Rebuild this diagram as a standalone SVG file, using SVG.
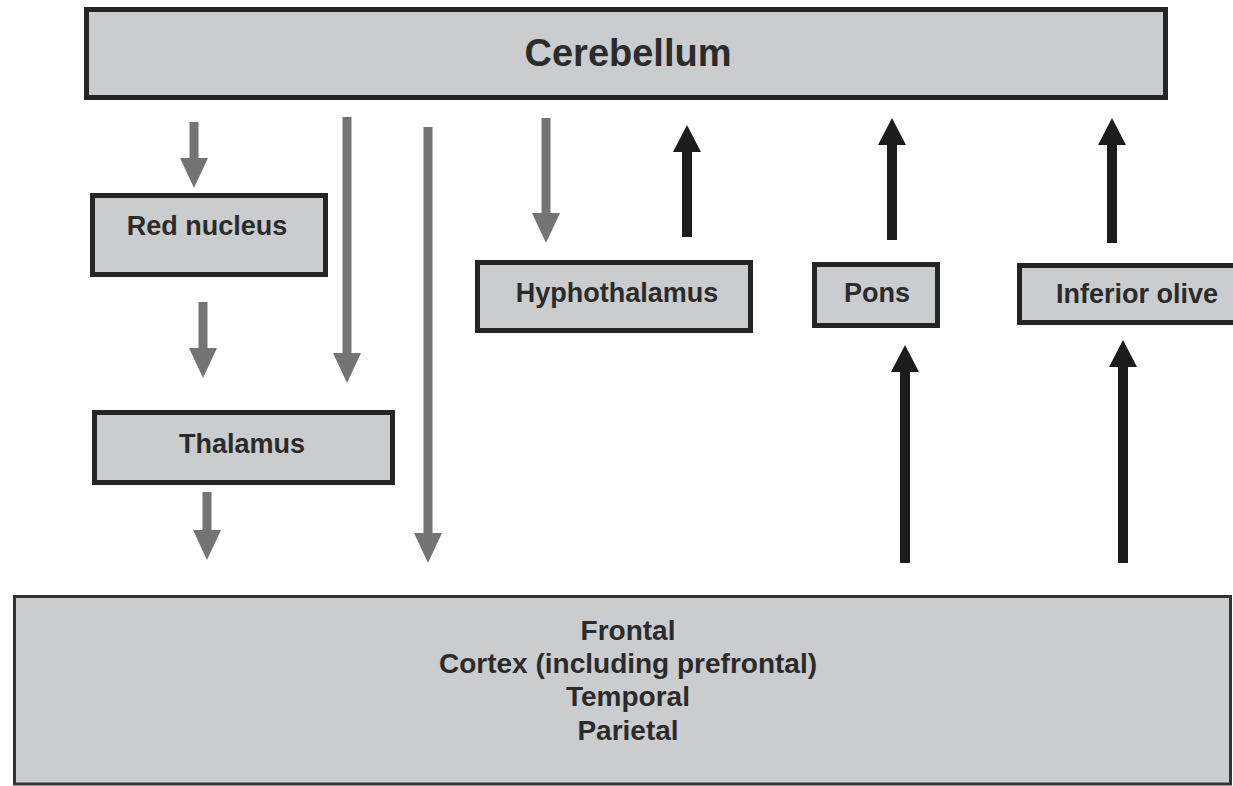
<svg xmlns="http://www.w3.org/2000/svg" width="1233" height="786" viewBox="0 0 1233 786">
<defs>
<style>
.box{fill:#cbccce;stroke:#252525;stroke-width:5}
.big{fill:#cbccce;stroke:#333;stroke-width:3}
.lbl{font-family:"Liberation Sans",Arial,sans-serif;font-weight:bold;font-size:27px;fill:#2b2b2b;text-anchor:middle}
.g{stroke:#747474;stroke-width:9;fill:none}
.k{stroke:#1c1c1c;stroke-width:10;fill:none}
</style>
<marker id="hg" markerUnits="userSpaceOnUse" markerWidth="30" markerHeight="28" refX="0" refY="14" orient="auto" viewBox="0 0 30 28">
<path d="M0,0 L30,14 L0,28 z" fill="#747474"/>
</marker>
<marker id="hk" markerUnits="userSpaceOnUse" markerWidth="27" markerHeight="28" refX="0" refY="14" orient="auto" viewBox="0 0 27 28">
<path d="M0,0 L27,14 L0,28 z" fill="#1c1c1c"/>
</marker>
</defs>
<rect width="1233" height="786" fill="#ffffff"/>
<g id="cerebellum">
<rect class="box" x="86.5" y="9.5" width="1079" height="88"/>
<text class="lbl" x="628" y="66" style="font-size:38px">Cerebellum</text>
</g>
<g id="red-nucleus">
<rect class="box" x="92.5" y="195.5" width="233" height="79"/>
<text class="lbl" x="207" y="235">Red nucleus</text>
</g>
<g id="thalamus">
<rect class="box" x="94.5" y="412.5" width="298" height="70"/>
<text class="lbl" x="242" y="453">Thalamus</text>
</g>
<g id="hypothalamus">
<rect class="box" x="477.5" y="262.5" width="273" height="68"/>
<text class="lbl" x="617" y="302">Hyphothalamus</text>
</g>
<g id="pons">
<rect class="box" x="814.5" y="264.5" width="123" height="61"/>
<text class="lbl" x="877" y="302">Pons</text>
</g>
<g id="inferior-olive">
<rect class="box" x="1019.5" y="265.5" width="225" height="57"/>
<text class="lbl" x="1137" y="303">Inferior olive</text>
</g>
<g id="cortex">
<rect class="big" x="14.5" y="596.5" width="1216" height="187.5"/>
<text class="lbl" style="font-size:28px" x="628" y="640">Frontal</text>
<text class="lbl" style="font-size:28px" x="628" y="673">Cortex (including prefrontal)</text>
<text class="lbl" style="font-size:28px" x="628" y="706">Temporal</text>
<text class="lbl" style="font-size:28px" x="628" y="740">Parietal</text>
</g>
<g id="connectors">
<line class="g" x1="194" y1="122" x2="194" y2="158" marker-end="url(#hg)"/>
<line class="g" x1="347" y1="117" x2="347" y2="353" marker-end="url(#hg)"/>
<line class="g" x1="428" y1="127" x2="428" y2="533" marker-end="url(#hg)"/>
<line class="g" x1="203" y1="302" x2="203" y2="348" marker-end="url(#hg)"/>
<line class="g" x1="207" y1="492" x2="207" y2="530" marker-end="url(#hg)"/>
<line class="g" x1="546" y1="118" x2="546" y2="213" marker-end="url(#hg)"/>
<line class="k" x1="687" y1="237" x2="687" y2="152" marker-end="url(#hk)"/>
<line class="k" x1="892" y1="240" x2="892" y2="145" marker-end="url(#hk)"/>
<line class="k" x1="1112" y1="243" x2="1112" y2="145" marker-end="url(#hk)"/>
<line class="k" x1="905" y1="563" x2="905" y2="372" marker-end="url(#hk)"/>
<line class="k" x1="1123" y1="563" x2="1123" y2="367" marker-end="url(#hk)"/>
</g>
</svg>
